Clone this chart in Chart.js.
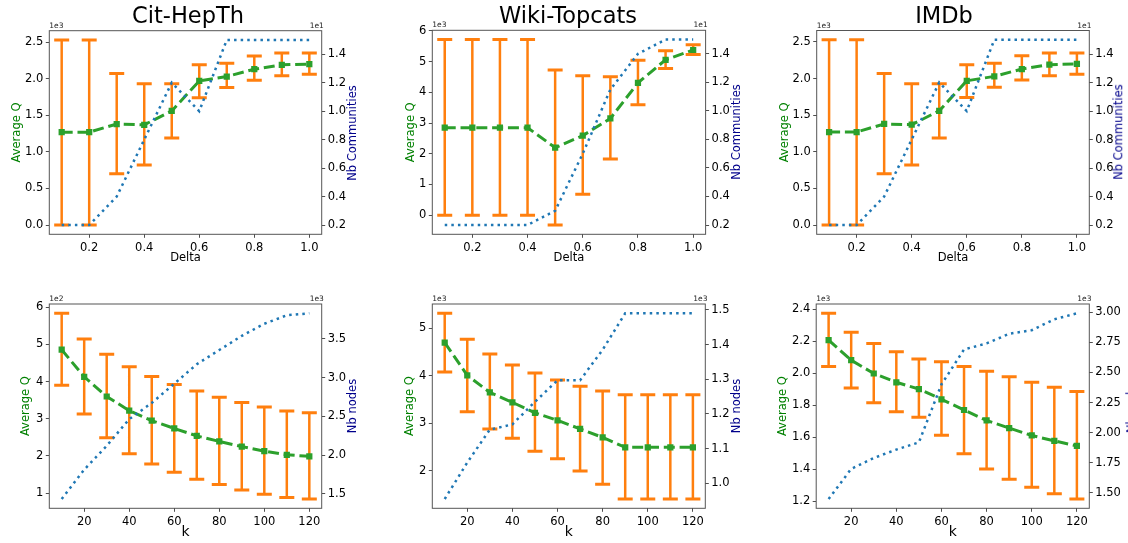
<!DOCTYPE html>
<html><head><meta charset="utf-8">
<script src="https://cdn.jsdelivr.net/npm/chart.js@4.4.1/dist/chart.umd.min.js"></script>
<style>
html,body{margin:0;padding:0;background:#fff;overflow:hidden;width:1128px;height:543px;}
canvas{position:absolute;}
.lbl{position:absolute;font-family:'DejaVu Sans',sans-serif;white-space:nowrap;line-height:1;}
.rlab{transform:translate(-50%,-50%) rotate(-90deg);font-size:11.5px;color:#00008b;}
.off{font-size:7.5px;color:#222;transform:translateY(-50%);}
</style></head><body>
<script>
// ---------- data ----------
const deltaValues = [0.1,0.2,0.3,0.4,0.5,0.6,0.7,0.8,0.9,1.0];
const kValues = [10,20,30,40,50,60,70,80,90,100,110,120];

const citDeltaQ     = [1270,1270,1380,1370,1560,1970,2030,2130,2190,2200];
const citDeltaQLow  = [0,0,700,820,1190,1740,1880,1980,2040,2060];
const citDeltaQHigh = [2530,2530,2070,1930,1930,2190,2210,2310,2350,2350];
const citDeltaComm  = [2,2,4,8,12,10,15,15,15,15];

const wikiDeltaQ     = [2850,2850,2850,2850,2200,2590,3150,4310,5060,5380];
const wikiDeltaQLow  = [0,0,0,0,-320,680,1830,3600,4780,5230];
const wikiDeltaQHigh = [5720,5720,5720,5720,4730,4540,4510,5050,5360,5550];
const wikiDeltaComm  = [2,2,2,2,3,7,11.5,14,15,15];

const imdbDeltaQ     = [1270,1270,1380,1370,1560,1970,2030,2130,2190,2200];
const imdbDeltaQLow  = [0,0,700,820,1190,1740,1880,1980,2040,2060];
const imdbDeltaQHigh = [2530,2530,2070,1930,1930,2190,2210,2310,2350,2350];
const imdbDeltaComm  = [2,2,4,8,12,10,15,15,15,15];

const citKQ     = [486,413,360,322,295,274,254,239,225,213,203,199];
const citKQLow  = [390,313,249,206,178,156,137,123,108,97,88,84];
const citKQHigh = [584,515,474,440,414,392,375,358,344,332,321,316];
const citKNodes = [1435,1813,2121,2465,2674,2921,3173,3356,3539,3695,3804,3830];

const wikiKQ     = [4700,4010,3650,3440,3220,3060,2880,2700,2490,2490,2490,2490];
const wikiKQLow  = [4080,3240,2880,2680,2410,2250,1990,1710,1400,1400,1400,1400];
const wikiKQHigh = [5320,4770,4460,4230,4060,3910,3780,3680,3600,3600,3600,3600];
const wikiKNodes = [955,1060,1155,1170,1235,1297,1297,1385,1490,1490,1490,1490];

const imdbKQ     = [2208,2082,1999,1944,1902,1838,1771,1706,1658,1612,1578,1547];
const imdbKQLow  = [2043,1909,1817,1760,1725,1614,1497,1403,1338,1288,1248,1215];
const imdbKQHigh = [2375,2256,2187,2134,2090,2072,2043,2013,1978,1944,1913,1886];
const imdbKNodes = [1450,1700,1790,1860,1920,2400,2690,2740,2820,2850,2940,2990];

// ---------- ticks ----------
const deltaTicks = [0.2,0.4,0.6,0.8,1.0];
const kTicks = [20,40,60,80,100,120];
const citDeltaQTicks = [0,500,1000,1500,2000,2500];
const wikiDeltaQTicks = [0,1000,2000,3000,4000,5000,6000];
const commTicks = [2,4,6,8,10,12,14];
const citKQTicks = [100,200,300,400,500,600];
const citKNodesTicks = [1500,2000,2500,3000,3500];
const wikiKQTicks = [2000,3000,4000,5000];
const wikiKNodesTicks = [1000,1100,1200,1300,1400,1500];
const imdbKQTicks = [1200,1400,1600,1800,2000,2200,2400];
const imdbKNodesTicks = [1500,1750,2000,2250,2500,2750,3000];

// ---------- styling ----------
const FONT = "'DejaVu Sans', sans-serif";
const ORANGE = '#ff7f0e', GREEN = '#2ca02c', BLUE = '#1f77b4';
Chart.defaults.font.family = FONT;
Chart.defaults.color = '#000';

const panels = [
 {box:[0,0,376,270], area:[49.3,30.7,321.7,234.3], title:'Cit-HepTh',
  x:deltaValues, xTicks:deltaTicks, xDec:1, xTitle:'Delta', xTitleSize:11.5, xTitlePad:4.9,
  q:citDeltaQ, lo:citDeltaQLow, hi:citDeltaQHigh, qTicks:citDeltaQTicks, qDiv:1000, qDec:1, qTitlePad:10.5,
  n:citDeltaComm, nTicks:commTicks, nDiv:10, nDec:1, nTitle:'Nb Communities', nTitleX:353, offL:'1e3', offR:'1e1'},
 {box:[376,0,384,270], area:[432.3,30.3,705.6,234.3], title:'Wiki-Topcats',
  x:deltaValues, xTicks:deltaTicks, xDec:1, xTitle:'Delta', xTitleSize:11.5, xTitlePad:4.9,
  q:wikiDeltaQ, lo:wikiDeltaQLow, hi:wikiDeltaQHigh, qTicks:wikiDeltaQTicks, qDiv:1000, qDec:0, qTitlePad:27.8,
  n:wikiDeltaComm, nTicks:commTicks, nDiv:10, nDec:1, nTitle:'Nb Communities', nTitleX:737, offL:'1e3', offR:'1e1'},
 {box:[760,0,368,270], area:[816.7,30.5,1089.3,234.3], title:'IMDb',
  x:deltaValues, xTicks:deltaTicks, xDec:1, xTitle:'Delta', xTitleSize:11.5, xTitlePad:4.9,
  q:imdbDeltaQ, lo:imdbDeltaQLow, hi:imdbDeltaQHigh, qTicks:citDeltaQTicks, qDiv:1000, qDec:1, qTitlePad:17.8,
  n:imdbDeltaComm, nTicks:commTicks, nDiv:10, nDec:1, nTitle:'Nb Communities', nTitleX:1119, offL:'1e3', offR:'1e1'},
 {box:[0,270,376,273], area:[49.3,304,321.7,508.3], title:null,
  x:kValues, xTicks:kTicks, xDec:0, xTitle:'k', xTitleSize:14, xTitlePad:2.1,
  q:citKQ, lo:citKQLow, hi:citKQHigh, qTicks:citKQTicks, qDiv:100, qDec:0, qTitlePad:19.5,
  n:citKNodes, nTicks:citKNodesTicks, nDiv:1000, nDec:1, nTitle:'Nb nodes', nTitleX:353, offL:'1e2', offR:'1e3'},
 {box:[376,270,384,273], area:[432.3,304,705.3,508.3], title:null,
  x:kValues, xTicks:kTicks, xDec:0, xTitle:'k', xTitleSize:14, xTitlePad:2.1,
  q:wikiKQ, lo:wikiKQLow, hi:wikiKQHigh, qTicks:wikiKQTicks, qDiv:1000, qDec:0, qTitlePad:27.1,
  n:wikiKNodes, nTicks:wikiKNodesTicks, nDiv:1000, nDec:1, nTitle:'Nb nodes', nTitleX:737, offL:'1e3', offR:'1e3'},
 {box:[760,270,368,273], area:[816.2,304,1089.3,508.3], title:null,
  x:kValues, xTicks:kTicks, xDec:0, xTitle:'k', xTitleSize:14, xTitlePad:2.1,
  q:imdbKQ, lo:imdbKQLow, hi:imdbKQHigh, qTicks:imdbKQTicks, qDiv:1000, qDec:1, qTitlePad:16.5,
  n:imdbKNodes, nTicks:imdbKNodesTicks, nDiv:1000, nDec:2, nTitle:'Nb nodes', nTitleX:1132, offL:'1e3', offR:'1e3'}
];

function padRange(lists){
  const all = [].concat(...lists);
  const mn = Math.min(...all), mx = Math.max(...all);
  const p = (mx - mn) * 0.05;
  return [mn - p, mx + p];
}

const framePlugin = {
  id:'frame',
  afterDraw(chart){
    const {ctx, chartArea:a} = chart;
    ctx.save();
    ctx.strokeStyle = '#555';
    ctx.lineWidth = 1;
    ctx.strokeRect(a.left, a.top, a.right - a.left, a.bottom - a.top);
    ctx.restore();
  }
};

function addLabel(cls, text, styles){
  const d = document.createElement('div');
  d.className = 'lbl ' + cls;
  d.textContent = text;
  Object.assign(d.style, styles);
  document.body.appendChild(d);
}

panels.forEach(p => {
  const [bx, by, bw, bh] = p.box;
  const [al, at, ar, ab] = p.area;
  const cv = document.createElement('canvas');
  cv.width = bw; cv.height = bh;
  cv.style.left = bx + 'px'; cv.style.top = by + 'px';
  document.body.appendChild(cv);

  const xr = padRange([p.x]);
  const qr = padRange([p.lo, p.hi, p.q]);
  const nr = padRange([p.n]);

  const seg = [], caps = [];
  p.x.forEach((xv, i) => {
    seg.push({x:xv, y:p.lo[i]}, {x:xv, y:p.hi[i]}, {x:xv, y:null});
    caps.push({x:xv, y:p.lo[i]}, {x:xv, y:p.hi[i]});
  });

  const tickGrid = {display:true, drawOnChartArea:false, drawTicks:true, tickLength:3.5, tickColor:'#222', tickWidth:0.8};
  const tickFont = {size:11.5, family:FONT};

  new Chart(cv, {
    type:'scatter',
    data:{datasets:[
      {data:p.n.map((v,i)=>({x:p.x[i], y:v})), yAxisID:'y1', showLine:true,
       borderColor:BLUE, borderWidth:2.5, borderDash:[2.5,4.1], pointRadius:0, order:0},
      {data:p.q.map((v,i)=>({x:p.x[i], y:v})), yAxisID:'y', showLine:true,
       borderColor:GREEN, borderWidth:3, borderDash:[11,4.8], pointStyle:'rect', pointRadius:4.4,
       pointBackgroundColor:GREEN, pointBorderColor:GREEN, pointBorderWidth:0, order:1},
      {data:caps, yAxisID:'y', showLine:false, pointStyle:'line', pointRadius:7.5,
       pointBorderWidth:3, pointBorderColor:ORANGE, pointBackgroundColor:ORANGE, order:2},
      {data:seg, yAxisID:'y', showLine:true, spanGaps:false, borderColor:ORANGE, borderWidth:2.5,
       pointRadius:0, order:3}
    ]},
    options:{
      responsive:false, animation:false, events:[],
      layout:{padding:{top: p.title ? 0 : at - by, left:0, right:0, bottom:0}},
      plugins:{
        legend:{display:false}, tooltip:{enabled:false},
        title: p.title ? {display:true, text:p.title, color:'#000',
          font:{size:22.5, weight:'normal', family:FONT}, padding:{top:at - by - 27, bottom:0}} : {display:false}
      },
      scales:{
        x:{type:'linear', position:'bottom', min:xr[0], max:xr[1],
          afterBuildTicks:s => { s.ticks = p.xTicks.map(v => ({value:v})); },
          afterFit:s => { s.height = (by + bh) - ab; },
          ticks:{callback:v => Number(v).toFixed(p.xDec), font:tickFont, color:'#000', padding:3, maxRotation:0, autoSkip:false},
          grid:tickGrid, border:{display:false},
          title:{display:true, text:p.xTitle, color:'#000', font:{size:p.xTitleSize, family:FONT}, padding:{top:0, bottom:p.xTitlePad}}
        },
        y:{type:'linear', position:'left', min:qr[0], max:qr[1],
          afterBuildTicks:s => { s.ticks = p.qTicks.map(v => ({value:v})); },
          afterFit:s => { s.width = al - bx; },
          ticks:{callback:v => (v / p.qDiv).toFixed(p.qDec), font:tickFont, color:'#000', padding:2.5, autoSkip:false},
          grid:tickGrid, border:{display:false},
          title:{display:true, text:'Average Q', color:'green', font:{size:11.5, family:FONT}, padding:{top:p.qTitlePad, bottom:0}}
        },
        y1:{type:'linear', position:'right', min:nr[0], max:nr[1],
          afterBuildTicks:s => { s.ticks = p.nTicks.map(v => ({value:v})); },
          afterFit:s => { s.width = (bx + bw) - ar; },
          ticks:{callback:v => (v / p.nDiv).toFixed(p.nDec), font:tickFont, color:'#000', padding:2.5, autoSkip:false},
          grid:tickGrid, border:{display:false},
          title:{display:false}
        }
      }
    },
    plugins:[framePlugin]
  });

  addLabel('rlab', p.nTitle, {left:p.nTitleX + 'px', top:Math.round((at + ab) / 2) + 'px'});
  addLabel('off', p.offL, {left:al + 'px', top:(at - 5) + 'px'});
  addLabel('off', p.offR, {left:(ar - 12) + 'px', top:(at - 5) + 'px'});
});
</script>
</body></html>
